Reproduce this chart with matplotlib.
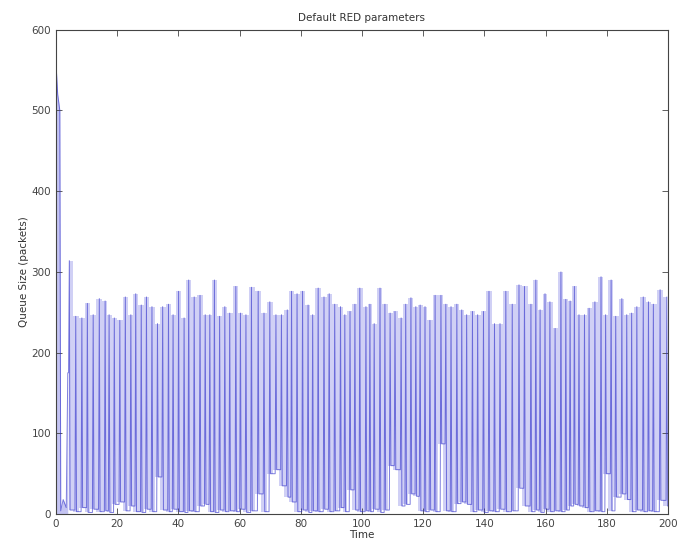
import numpy as np
import matplotlib
matplotlib.use('Agg')
import matplotlib.pyplot as plt

# start-up transient: queue shoots up, then empties
start_t = [0.0, 0.1, 0.6, 1.3, 1.6, 2.4, 3.4, 3.9]
start_q = [0, 555, 520, 500, 4, 18, 8, 175]

# peaks of each oscillation (time, queue size)
peak_t = [4.4, 6.5, 8.5, 10.3, 12.2, 14.2, 16.1, 17.4, 19.1, 20.9,
          22.7, 24.5, 26.1, 27.9, 29.6, 31.4, 33.2, 34.9, 36.8, 38.3,
          40.1, 41.9, 43.4, 45.2, 47.1, 48.8, 50.3, 51.8, 53.5, 55.2,
          56.8, 58.8, 60.3, 62.1, 63.9, 66.1, 68.0, 69.9, 71.9, 73.7,
          75.6, 77.0, 78.8, 80.6, 82.4, 83.9, 85.7, 87.6, 89.3, 91.1,
          93.0, 94.4, 96.1, 97.7, 99.3, 101.3, 102.6, 104.0, 105.9, 107.5,
          109.2, 110.8, 112.8, 114.3, 116.0, 117.6, 119.0, 120.6, 122.2, 123.9,
          125.8, 127.4, 129.1, 131.0, 132.6, 134.2, 136.1, 137.8, 139.7, 141.5,
          143.3, 145.1, 147.0, 149.1, 151.3, 153.1, 155.2, 156.8, 158.2, 159.8,
          161.4, 163.1, 165.0, 166.6, 168.0, 169.4, 170.9, 172.7, 174.2, 176.1,
          178.1, 179.6, 181.4, 182.9, 184.9, 186.5, 188.1, 189.8, 191.9, 193.6,
          195.2, 197.4, 199.6]
peak_q = [314, 245, 243, 261, 247, 267, 264, 247, 243, 240,
          269, 247, 273, 259, 269, 257, 236, 257, 260, 247,
          276, 243, 290, 269, 271, 247, 247, 290, 245, 257,
          249, 282, 249, 247, 281, 276, 249, 263, 247, 247,
          253, 276, 273, 276, 259, 247, 280, 269, 273, 260,
          257, 247, 251, 260, 280, 257, 260, 236, 280, 260,
          249, 251, 243, 260, 268, 257, 259, 257, 240, 271,
          271, 260, 257, 260, 253, 247, 251, 247, 251, 276,
          236, 236, 276, 260, 284, 282, 260, 290, 253, 273,
          263, 230, 300, 266, 264, 282, 247, 247, 255, 263,
          294, 247, 290, 245, 267, 247, 249, 257, 269, 263,
          260, 278, 269]
# minimum reached after each peak
trough_q = [5, 3, 8, 2, 6, 3, 4, 2, 12, 15,
            4, 10, 3, 2, 6, 3, 46, 5, 3, 6,
            3, 2, 4, 3, 10, 12, 3, 2, 5, 3,
            4, 3, 6, 2, 4, 25, 3, 50, 55, 35,
            21, 15, 3, 5, 2, 4, 3, 6, 3, 4,
            8, 3, 30, 5, 3, 4, 3, 6, 2, 5,
            60, 55, 10, 12, 25, 22, 4, 3, 5, 3,
            87, 4, 3, 13, 15, 12, 3, 5, 2, 4,
            3, 6, 3, 4, 32, 10, 3, 5, 2, 6,
            3, 4, 3, 5, 10, 12, 10, 8, 3, 4,
            3, 50, 4, 21, 25, 18, 3, 5, 3, 4,
            3, 17, 10]

# trace: steep rise to each peak, steep fall to the trough after it
t_line = list(start_t)
q_line = list(start_q)
prev = start_q[-1]
for i in range(len(peak_t)):
    t_line += [peak_t[i] - 0.25, peak_t[i], min(peak_t[i] + 0.25, 200)]
    q_line += [prev, peak_q[i], trough_q[i]]
    prev = trough_q[i]
t_line.append(200)
q_line.append(prev)

plt.rcParams['font.family'] = 'DejaVu Sans'
fig = plt.figure(figsize=(6.81, 5.51), dpi=100)
ax = fig.add_axes([0.082, 0.067, 0.899, 0.879])

ax.fill_between(peak_t, trough_q, peak_q, step='mid', color='#d0d0f5', lw=0)
ax.fill_between(start_t, 0, start_q, color='#c4c4f2', lw=0)
ax.plot(t_line, q_line, color='#2828c8', lw=0.7, alpha=0.6)

ax.set_xlim(0, 200)
ax.set_ylim(0, 600)
ax.set_xticks(range(0, 201, 20))
ax.set_yticks(range(0, 601, 100))
ax.tick_params(direction='in', top=True, right=True, labelsize=7.5,
               colors='#444444', length=4, width=0.6)
for s in ax.spines.values():
    s.set_color('#444444')
    s.set_linewidth(0.8)
ax.set_title('Default RED parameters', fontsize=7.5, color='#333333', pad=6)
ax.set_xlabel('Time', fontsize=7.5, color='#333333', labelpad=1)
ax.set_ylabel('Queue Size (packets)', fontsize=7.5, color='#333333', labelpad=2)

fig.savefig('out.png', dpi=100)
